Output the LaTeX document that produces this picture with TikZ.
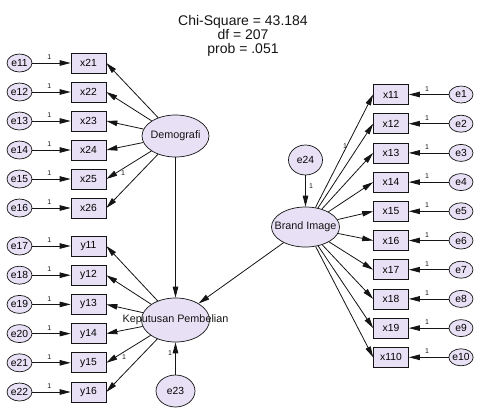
\documentclass[tikz,border=0pt]{standalone}
\usepackage{fontspec}
\setmainfont{Liberation Sans}
\usetikzlibrary{shapes.geometric,arrows.meta}
\definecolor{lav}{RGB}{232,225,245}
\definecolor{ink}{RGB}{20,20,20}
\begin{document}
\begin{tikzpicture}[x=1pt,y=-1pt,
  obs/.style={draw=ink, fill=lav, line width=0.7pt, minimum width=35pt, minimum height=20pt, inner sep=0pt, font=\fontsize{10.3}{12}\selectfont},
  err/.style={ellipse, draw=ink, fill=lav, line width=0.7pt, minimum width=25pt, minimum height=18pt, inner sep=0pt, font=\fontsize{10.3}{12}\selectfont},
  lat/.style={ellipse, draw=ink, fill=lav, line width=0.7pt, inner sep=0pt},
  latfont/.style={font=\fontsize{10.8}{12}\selectfont, text=ink},
  arr/.style={-{Triangle[length=11pt,width=5.5pt]}, line width=0.8pt, draw=ink},
  one/.style={font=\fontsize{7}{8}\selectfont, inner sep=1pt, text=ink}]
\useasboundingbox (0,0) rectangle (487,410);

% title
\node[align=center, font=\fontsize{14}{14.3}\selectfont, text=ink] (title) at (243,36)
  {Chi-Square = 43.184\\df = 207\\prob = .051};

% latent variables
\node[lat, minimum width=67pt, minimum height=42pt, label={[latfont]center:Demografi}] (dem) at (175.5,136) {};
\node[lat, minimum width=68pt, minimum height=44pt, label={[latfont]center:Keputusan Pembelian}] (kp) at (175.5,320) {};
\node[lat, minimum width=68pt, minimum height=40pt, label={[latfont]center:Brand Image}] (brand) at (305.5,227) {};
\node[err, minimum width=39pt, minimum height=32pt] (e23) at (175.5,391) {e23};
\node[err, minimum width=34pt, minimum height=30pt] (e24) at (305.5,160) {e24};

% left: Demografi indicators
\foreach \n [count=\i from 0, evaluate=\i as \en using int(11+\i)] in {21,...,26} {
  \node[obs] (x\n) at (88.5,63+29*\i) {x\n};
  \node[err] (e\en) at (19.5,63+29*\i) {e\en};
  \draw[arr] (e\en) -- node[one, above=2pt, pos=.44] {1} (x\n);
  \draw[arr] (dem) -- (x\n.east);
}

% left: Keputusan Pembelian indicators
\foreach \n [count=\i from 0, evaluate=\i as \en using int(17+\i)] in {11,...,16} {
  \node[obs] (y\n) at (88.5,246+29.2*\i) {y\n};
  \node[err] (e\en) at (19.5,246+29.2*\i) {e\en};
  \draw[arr] (e\en) -- node[one, above=2pt, pos=.44] {1} (y\n);
  \draw[arr] (kp) -- (y\n.east);
}

% right: Brand Image indicators
\foreach \k [count=\i from 0] in {1,...,10} {
  \node[obs] (x1\k) at (391,94.5+29.2*\i) {x1\k};
  \node[err, minimum width=24pt, minimum height=17pt] (e\k) at (461,94.5+29.2*\i) {e\k};
  \draw[arr] (e\k) -- node[one, above=2pt, pos=.54] {1} (x1\k);
  \draw[arr] (brand) -- (x1\k.west);
}

% structural paths
\draw[arr] (dem) -- (kp);
\draw[arr] (brand) -- (kp);
\draw[arr] (e23) -- (kp);
\draw[arr] (e24) -- (brand);

% fixed loadings
\node[one] (l26) at (123,173) {1};
\node[one] (l16) at (124,357) {1};
\node[one] (l23) at (170,353) {1};
\node[one] (l24) at (311,186) {1};
\node[one] (l11) at (345,146) {1};
\end{tikzpicture}
\end{document}
